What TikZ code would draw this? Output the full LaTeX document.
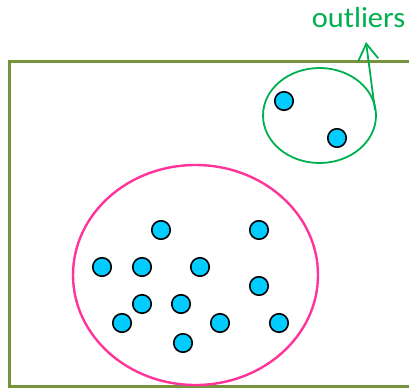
\documentclass[tikz,border=0pt]{standalone}
\usepackage{fontspec}
\setmainfont{Carlito}
\usetikzlibrary{arrows.meta}
\definecolor{boxgreen}{HTML}{77933C}
\definecolor{outgreen}{HTML}{00B050}
\definecolor{clpink}{HTML}{FF3399}
\definecolor{dotcyan}{HTML}{00CCFF}
\begin{document}
\begin{tikzpicture}[x=1pt,y=-1pt,
  pt/.style={circle,draw=black,line width=1.6pt,fill=dotcyan,minimum size=18.5pt,inner sep=0pt},
  region/.style={draw=boxgreen,line width=3pt},
  outlierring/.style={draw=outgreen,line width=1.8pt}]
\useasboundingbox (0,0) rectangle (409,388);
% data space
\draw[region] (9,61) rectangle (420,386);
% main cluster
\draw[draw=clpink,line width=2.4pt] (195.5,275) ellipse [x radius=122.5, y radius=110];
% outlier group
\draw[outlierring] (319.5,115.5) ellipse [x radius=56.5, y radius=47.5];
% label and pointer
\node[text=outgreen,font=\fontsize{29}{29}\selectfont,anchor=base,inner sep=0pt,xscale=1.05] (lab) at (358.5,27) {outliers};
\coordinate (tail) at (375,110);
\coordinate (tip) at (366,42);
\draw[outgreen,line width=1.8pt,-{Straight Barb[length=16pt,width=20pt,line width=1.8pt]}] (tail) -- (tip);
% points
\foreach \n/\x/\y in {o1/284/101, o2/337/138,
  a/161/230, b/259/230, c/102/267, d/142/267, e/200/267, f/259/286,
  g/142/304, h/181/304, i/122/323, j/220/323, k/279/323, l/183/343}
  \node[pt] (\n) at (\x,\y) {};
\end{tikzpicture}
\end{document}
